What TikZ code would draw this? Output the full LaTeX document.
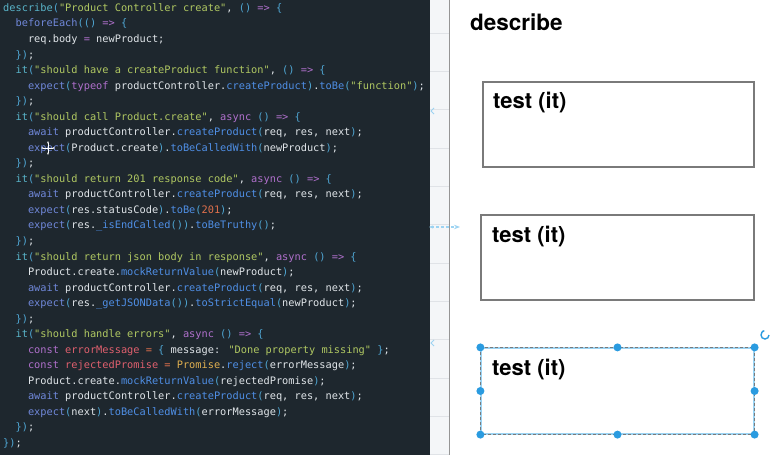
\documentclass[tikz,border=0pt]{standalone}
\usepackage{fontspec}
\newfontfamily\codefont{DejaVu Sans Mono}
\newfontfamily\uifont{TeX Gyre Heros}
\usetikzlibrary{arrows.meta}

% editor colours
\definecolor{codebg}{HTML}{1E272E}
\definecolor{cplain}{HTML}{E0E5E9}
\definecolor{cfn}{HTML}{59B4C9}
\definecolor{ckw}{HTML}{7088DA}
\definecolor{cstr}{HTML}{B0C862}
\definecolor{cpun}{HTML}{4FA6D3}
\definecolor{cmeth}{HTML}{4F8FE6}
\definecolor{carr}{HTML}{B070CC}
\definecolor{cnum}{HTML}{E0704C}
\definecolor{cvar}{HTML}{E0606E}
\definecolor{ctype}{HTML}{E0B050}
% canvas colours
\definecolor{gridbg}{HTML}{F4F6F8}
\definecolor{gridline}{HTML}{E0E3E7}
\definecolor{boxline}{HTML}{7A7A7A}
\definecolor{selblue}{HTML}{2A9BE0}
\definecolor{markblue}{HTML}{9CD3F2}

\newcommand\kf[1]{\textcolor{cfn}{#1}}
\newcommand\kw[1]{\textcolor{ckw}{#1}}
\newcommand\ks[1]{\textcolor{cstr}{#1}}
\newcommand\kp[1]{\textcolor{cpun}{#1}}
\newcommand\km[1]{\textcolor{cmeth}{#1}}
\newcommand\ka[1]{\textcolor{carr}{#1}}
\newcommand\kn[1]{\textcolor{cnum}{#1}}
\newcommand\kv[1]{\textcolor{cvar}{#1}}
\newcommand\kt[1]{\textcolor{ctype}{#1}}

\begin{document}
\begin{tikzpicture}[x=1pt, y=-1pt,
  codeline/.style={anchor=base west, inner sep=0pt, text=cplain,
    font=\codefont\fontsize{10.3}{12}\selectfont},
  testbox/.style={draw=boxline, line width=1.2pt, fill=white, inner sep=0pt},
  testlabel/.style={anchor=base west, inner sep=0pt,
    font=\uifont\bfseries\fontsize{22}{26}\selectfont},
  handle/.style={circle, fill=selblue, inner sep=0pt, minimum size=8pt}]
\useasboundingbox (0,0) rectangle (774,455);

% Editor panel
\fill[codebg] (0,0) rectangle (430,455);

% Canvas strip and divider
\fill[gridbg] (430,0) rectangle (449,455);
\foreach \y in {33,71.3,...,455}
  \draw[gridline] (430,\y) -- (449,\y);
\draw[boxline!80, line width=1pt] (449.5,0) -- (449.5,455);
\fill[white] (450,0) rectangle (774,455);

% Code
\node[codeline] (c1) at (3,11.5) {\kf{describe}\kp{(}\ks{"Product Controller create"}, \kp{()} \ka{=>} \kp{\{}};
\node[codeline] (c2) at (15.4,27.0) {\kw{beforeEach}\kp{(()} \ka{=>} \kp{\{}};
\node[codeline] (c3) at (27.8,42.6) {req.body \ka{=} newProduct;};
\node[codeline] (c4) at (15.4,58.1) {\kp{\})};};
\node[codeline] (c5) at (15.4,73.6) {\kf{it}\kp{(}\ks{"should have a createProduct function"}, \kp{()} \ka{=>} \kp{\{}};
\node[codeline] (c6) at (27.8,89.2) {\kw{expect}\kp{(}\ka{typeof} productController.\km{createProduct}\kp{)}.\km{toBe}\kp{(}\ks{"function"}\kp{)};};
\node[codeline] (c7) at (15.4,104.7) {\kp{\})};};
\node[codeline] (c8) at (15.4,120.2) {\kf{it}\kp{(}\ks{"should call Product.create"}, \ka{async} \kp{()} \ka{=>} \kp{\{}};
\node[codeline] (c9) at (27.8,135.7) {\kw{await} productController.\km{createProduct}\kp{(}req, res, next\kp{)};};
\node[codeline] (c10) at (27.8,151.3) {\kw{expect}\kp{(}Product.create\kp{)}.\km{toBeCalledWith}\kp{(}newProduct\kp{)};};
\node[codeline] (c11) at (15.4,166.8) {\kp{\})};};
\node[codeline] (c12) at (15.4,182.3) {\kf{it}\kp{(}\ks{"should return 201 response code"}, \ka{async} \kp{()} \ka{=>} \kp{\{}};
\node[codeline] (c13) at (27.8,197.9) {\kw{await} productController.\km{createProduct}\kp{(}req, res, next\kp{)};};
\node[codeline] (c14) at (27.8,213.4) {\kw{expect}\kp{(}res.statusCode\kp{)}.\km{toBe}\kp{(}\kn{201}\kp{)};};
\node[codeline] (c15) at (27.8,228.9) {\kw{expect}\kp{(}res.\km{\_isEndCalled}\kp{())}.\km{toBeTruthy}\kp{()};};
\node[codeline] (c16) at (15.4,244.5) {\kp{\})};};
\node[codeline] (c17) at (15.4,260.0) {\kf{it}\kp{(}\ks{"should return json body in response"}, \ka{async} \kp{()} \ka{=>} \kp{\{}};
\node[codeline] (c18) at (27.8,275.5) {Product.create.\km{mockReturnValue}\kp{(}newProduct\kp{)};};
\node[codeline] (c19) at (27.8,291.0) {\kw{await} productController.\km{createProduct}\kp{(}req, res, next\kp{)};};
\node[codeline] (c20) at (27.8,306.6) {\kw{expect}\kp{(}res.\km{\_getJSONData}\kp{())}.\km{toStrictEqual}\kp{(}newProduct\kp{)};};
\node[codeline] (c21) at (15.4,322.1) {\kp{\})};};
\node[codeline] (c22) at (15.4,337.6) {\kf{it}\kp{(}\ks{"should handle errors"}, \ka{async} \kp{()} \ka{=>} \kp{\{}};
\node[codeline] (c23) at (27.8,353.2) {\ka{const} \kv{errorMessage} \kn{=} \kp{\{} message: \ks{"Done property missing"} \kp{\}};};
\node[codeline] (c24) at (27.8,368.7) {\ka{const} \kv{rejectedPromise} \kn{=} \kt{Promise}.\km{reject}\kp{(}errorMessage\kp{)};};
\node[codeline] (c25) at (27.8,384.2) {Product.create.\km{mockReturnValue}\kp{(}rejectedPromise\kp{)};};
\node[codeline] (c26) at (27.8,399.8) {\kw{await} productController.\km{createProduct}\kp{(}req, res, next\kp{)};};
\node[codeline] (c27) at (27.8,415.3) {\kw{expect}\kp{(}next\kp{)}.\km{toBeCalledWith}\kp{(}errorMessage\kp{)};};
\node[codeline] (c28) at (15.4,430.8) {\kp{\})};};
\node[codeline] (c29) at (3,446.3) {\kp{\})};};

% Move cursor
\draw[white, line width=1pt, {Stealth[length=2.5pt]}-{Stealth[length=2.5pt]}] (41,148) -- (55,148);
\draw[white, line width=1pt, {Stealth[length=2.5pt]}-{Stealth[length=2.5pt]}] (48,141) -- (48,155);

% Drop markers
\draw[markblue, line width=1pt] (434,108) -- (431,111) -- (434,114);
\draw[markblue, line width=1.5pt, dash pattern=on 3pt off 2pt,
  {Stealth[length=4pt]}-{Stealth[length=6pt]}] (429,227) -- (460,227);
\draw[markblue, line width=1pt] (434,340) -- (431,343) -- (434,346);

% Diagram
\node[testlabel, font=\uifont\bfseries\fontsize{22.5}{26}\selectfont] (describe) at (470,30) {describe};

\node[testbox, minimum width=271pt, minimum height=85pt] (test1) at (618.5,124.5) {};
\node[testbox, minimum width=273pt, minimum height=85pt] (test2) at (617.5,257.5) {};
\node[testbox, draw=markblue, minimum width=273pt, minimum height=86pt] (test3) at (617.5,391) {};
\draw[boxline, line width=1pt, dash pattern=on 3pt off 2pt] (test3.north west) rectangle (test3.south east);

\node[testlabel] (lab1) at (493,108) {test (it)};
\node[testlabel] (lab2) at (492,242) {test (it)};
\node[testlabel] (lab3) at (492,375) {test (it)};

% Selection handles
\foreach \a/\n in {north west/nw, north/n, north east/ne, east/e,
                   south east/se, south/s, south west/sw, west/w}
  \node[handle] (h\n) at (test3.\a) {};
\draw[selblue, line width=1.4pt, -{Stealth[length=2.5pt]}]
  (769,335) arc[start angle=0, end angle=-270, radius=4pt];

\end{tikzpicture}
\end{document}
